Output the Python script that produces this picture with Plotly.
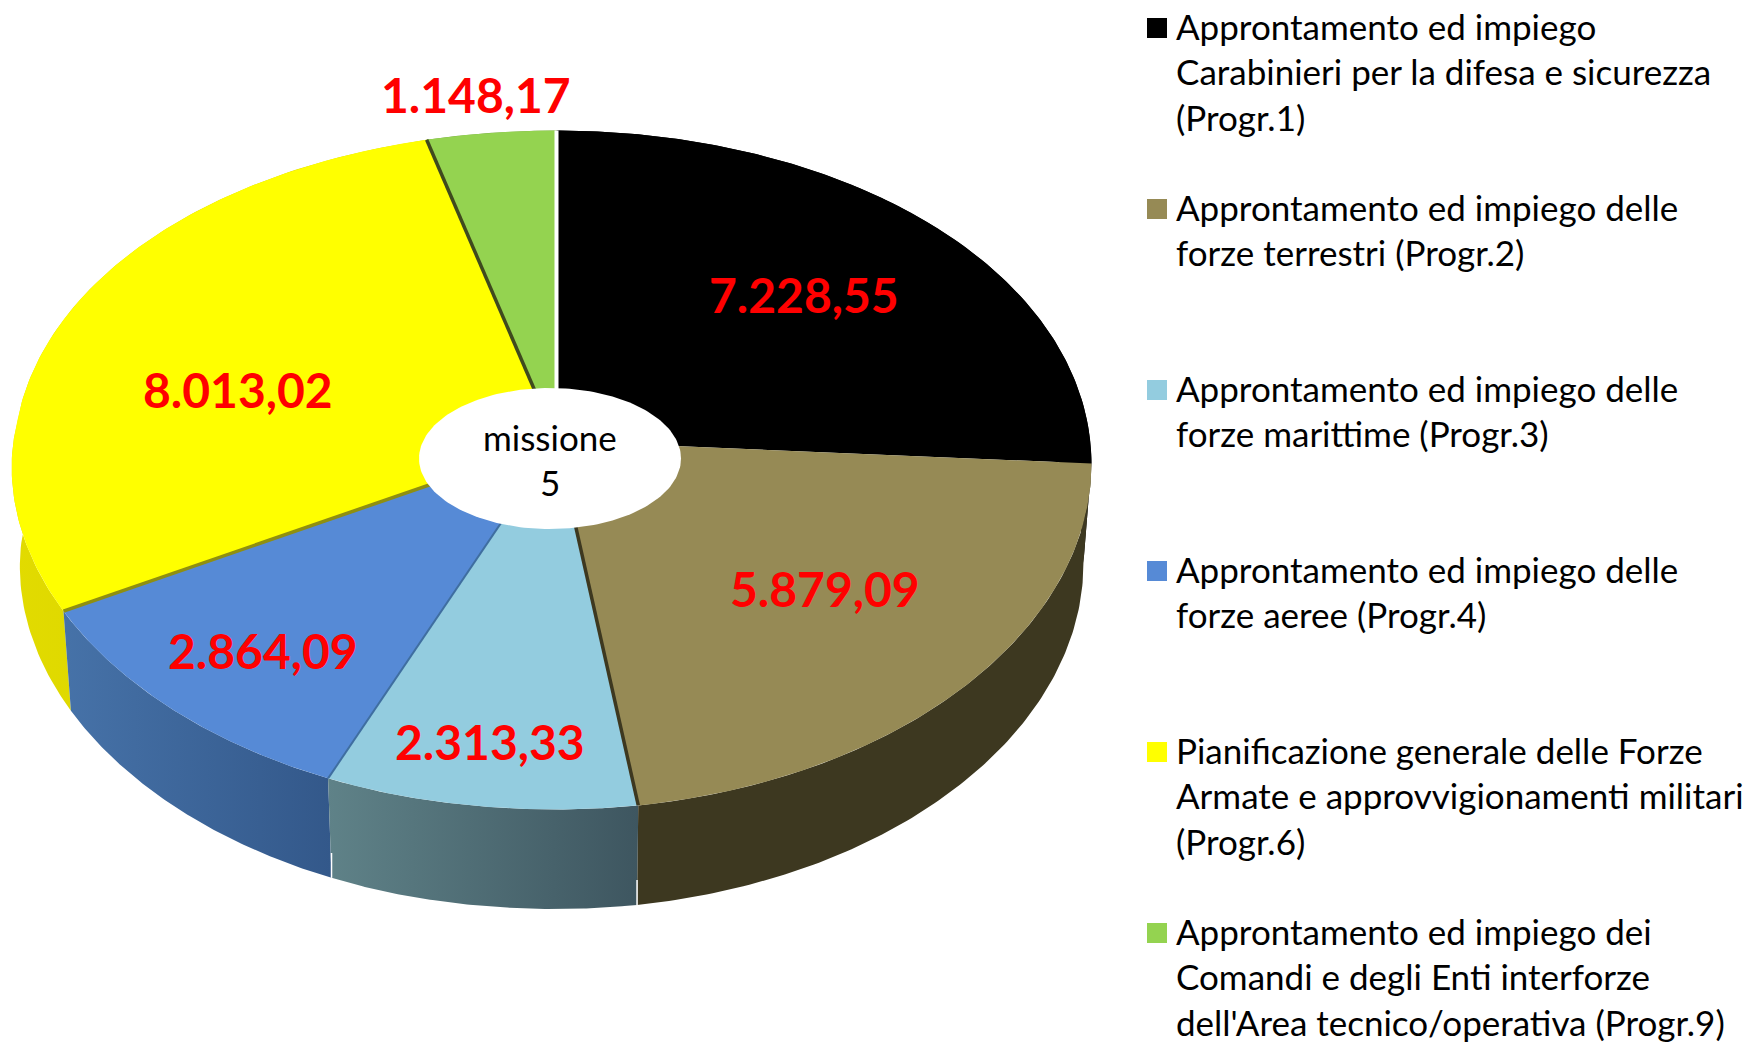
import numpy as np
import plotly.graph_objects as go

# ---- data ----
programmes = [
    "Approntamento ed impiego<br>Carabinieri per la difesa e sicurezza<br>(Progr.1)",
    "Approntamento ed impiego delle<br>forze terrestri (Progr.2)",
    "Approntamento ed impiego delle<br>forze marittime (Progr.3)",
    "Approntamento ed impiego delle<br>forze aeree (Progr.4)",
    "Pianificazione generale delle Forze<br>Armate e approvvigionamenti militari<br>(Progr.6)",
    "Approntamento ed impiego dei<br>Comandi e degli Enti interforze<br>dell'Area tecnico/operativa (Progr.9)",
]
values = [7228.55, 5879.09, 2313.33, 2864.09, 8013.02, 1148.17]
centre_text = ["missione", "5"]

# ---- styles ----
top_colors = ["#000000", "#968a55", "#93ccdf", "#568ad6", "#ffff00", "#94d350"]
wall_left = ["#000000", "#3d3820", "#5f8288", "#4672a8", "#e2db00", "#6f9e3c"]
wall_right = ["#000000", "#3d3820", "#3e5660", "#33588a", "#cfcf00", "#6f9e3c"]
# edge at the START of each slice (boundary with the previous slice)
edge_colors = ["#ffffff", "#000000", "#3d3820", "#3f6ea0", "#8f8f10", "#3f4a1e"]
edge_widths = [4, 0, 3.5, 2, 3.5, 3.5]
label_pos = [(804, 294), (825, 588), (490, 741), (263, 650), (238, 389), (476, 94)]

FONT = "Lato"
CX, CY = 556.5, 441
A_L, A_R, B, K, DEPTH = 541, 533, 337, 0.0855, 99.5


def project(theta, depth=0.0):
    """Perspective view of a point of the pie rim (theta clockwise from 12 o'clock)."""
    s, c = np.sin(theta), np.cos(theta)
    a = np.where(s >= 0, A_R, A_L)
    side = np.where(s >= 0, 6, 9)
    x = a * s / (1 + K * c)
    y = -B * c / (1 + K * c) - side * s ** 2
    # the drawn pie bulges a little further out at its lower left
    lower_left = (s < 0) & (c < 0)
    x = x - np.where(lower_left, 6 * np.sqrt(np.abs(c)) * np.minimum(1, np.abs(s) * 4), 0)
    if depth:
        x = x * 0.985
        y = y + depth
    return CX + x, CY + y


def it_number(v):
    return f"{v:,.2f}".replace(",", "§").replace(".", ",").replace("§", ".")


fracs = np.array(values) / sum(values)
ends = np.cumsum(fracs) * 2 * np.pi
starts = ends - fracs * 2 * np.pi

fig = go.Figure()

# side walls, furthest first
for i in [0, 5, 4, 3, 2, 1]:
    t = np.linspace(starts[i], ends[i], 120)
    x1, y1 = project(t)
    x2, y2 = project(t[::-1], DEPTH)
    kw = dict(fillcolor=wall_left[i])
    if wall_left[i] != wall_right[i]:
        kw = dict(fillgradient=dict(type="horizontal",
                                    colorscale=[[0, wall_left[i]], [1, wall_right[i]]]))
    fig.add_trace(go.Scatter(x=np.r_[x1, x2], y=np.r_[y1, y2], mode="lines", fill="toself",
                             line=dict(width=0), hoverinfo="skip", showlegend=False, **kw))

# small pale seams between the front walls
for i in (2, 3):
    th = np.array([starts[i]])
    x1, y1 = project(th, DEPTH * 0.75)
    x2, y2 = project(th, DEPTH)
    fig.add_trace(go.Scatter(x=[x1[0], x2[0]], y=[y1[0], y2[0]], mode="lines",
                             line=dict(color="#ffffff", width=1.5),
                             hoverinfo="skip", showlegend=False))

# top faces
for i in range(6):
    t = np.linspace(starts[i], ends[i], 200)
    x, y = project(t)
    fig.add_trace(go.Scatter(x=np.r_[CX, x, CX], y=np.r_[CY, y, CY], mode="lines", fill="toself",
                             fillcolor=top_colors[i], line=dict(width=0),
                             name=programmes[i].replace("<br>", " "),
                             text=it_number(values[i]), hoverinfo="name+text", showlegend=False))

# radial edges between faces
for i in range(6):
    if edge_widths[i] == 0:
        continue
    bx, by = project(np.array([starts[i]]))
    fig.add_trace(go.Scatter(x=[CX, bx[0]], y=[CY, by[0]], mode="lines",
                             line=dict(color=edge_colors[i], width=edge_widths[i]),
                             hoverinfo="skip", showlegend=False))

# centre hole
phi = np.linspace(0, 2 * np.pi, 200)
fig.add_trace(go.Scatter(x=550 + 131 * np.cos(phi), y=458.5 + 70.5 * np.sin(phi), mode="lines",
                         fill="toself", fillcolor="#ffffff", line=dict(width=0),
                         hoverinfo="skip", showlegend=False))

# legend swatches
SW_X, SW_Y0, TXT_X, TXT_Y0, LEG_STEP, LINE_H = 1157, 28, 1174, 26, 181, 45.3
fig.add_trace(go.Scatter(x=[SW_X] * 6, y=[SW_Y0 + LEG_STEP * i for i in range(6)], mode="markers",
                         marker=dict(symbol="square", size=20, color=top_colors, line=dict(width=0)),
                         hoverinfo="skip", showlegend=False))

ann = []
for i, name in enumerate(programmes):
    for j, line in enumerate(name.split("<br>")):
        ann.append(dict(x=TXT_X, y=TXT_Y0 + LEG_STEP * i + LINE_H * j, text=line, showarrow=False,
                        xanchor="left", yanchor="middle", font=dict(family=FONT, size=35, color="#000")))
for i, (lx, ly) in enumerate(label_pos):
    ann.append(dict(x=lx, y=ly, text=it_number(values[i]), showarrow=False, xanchor="center",
                    yanchor="middle", font=dict(family=FONT, size=48, color="#ff0000", weight="bold")))
for j, line in enumerate(centre_text):
    ann.append(dict(x=550, y=436.5 + 45 * j, text=line, showarrow=False, xanchor="center",
                    yanchor="middle", font=dict(family=FONT, size=35, color="#000")))

fig.update_layout(
    width=1751, height=1042, margin=dict(l=0, r=0, t=0, b=0),
    paper_bgcolor="#ffffff", plot_bgcolor="#ffffff", showlegend=False, annotations=ann,
    xaxis=dict(range=[0, 1751], visible=False, fixedrange=True),
    yaxis=dict(range=[1042, 0], visible=False, fixedrange=True),
)
fig.write_html("out.html", config=dict(displayModeBar=False),
               post_script="document.body.style.margin='0';document.body.style.overflow='hidden';")
